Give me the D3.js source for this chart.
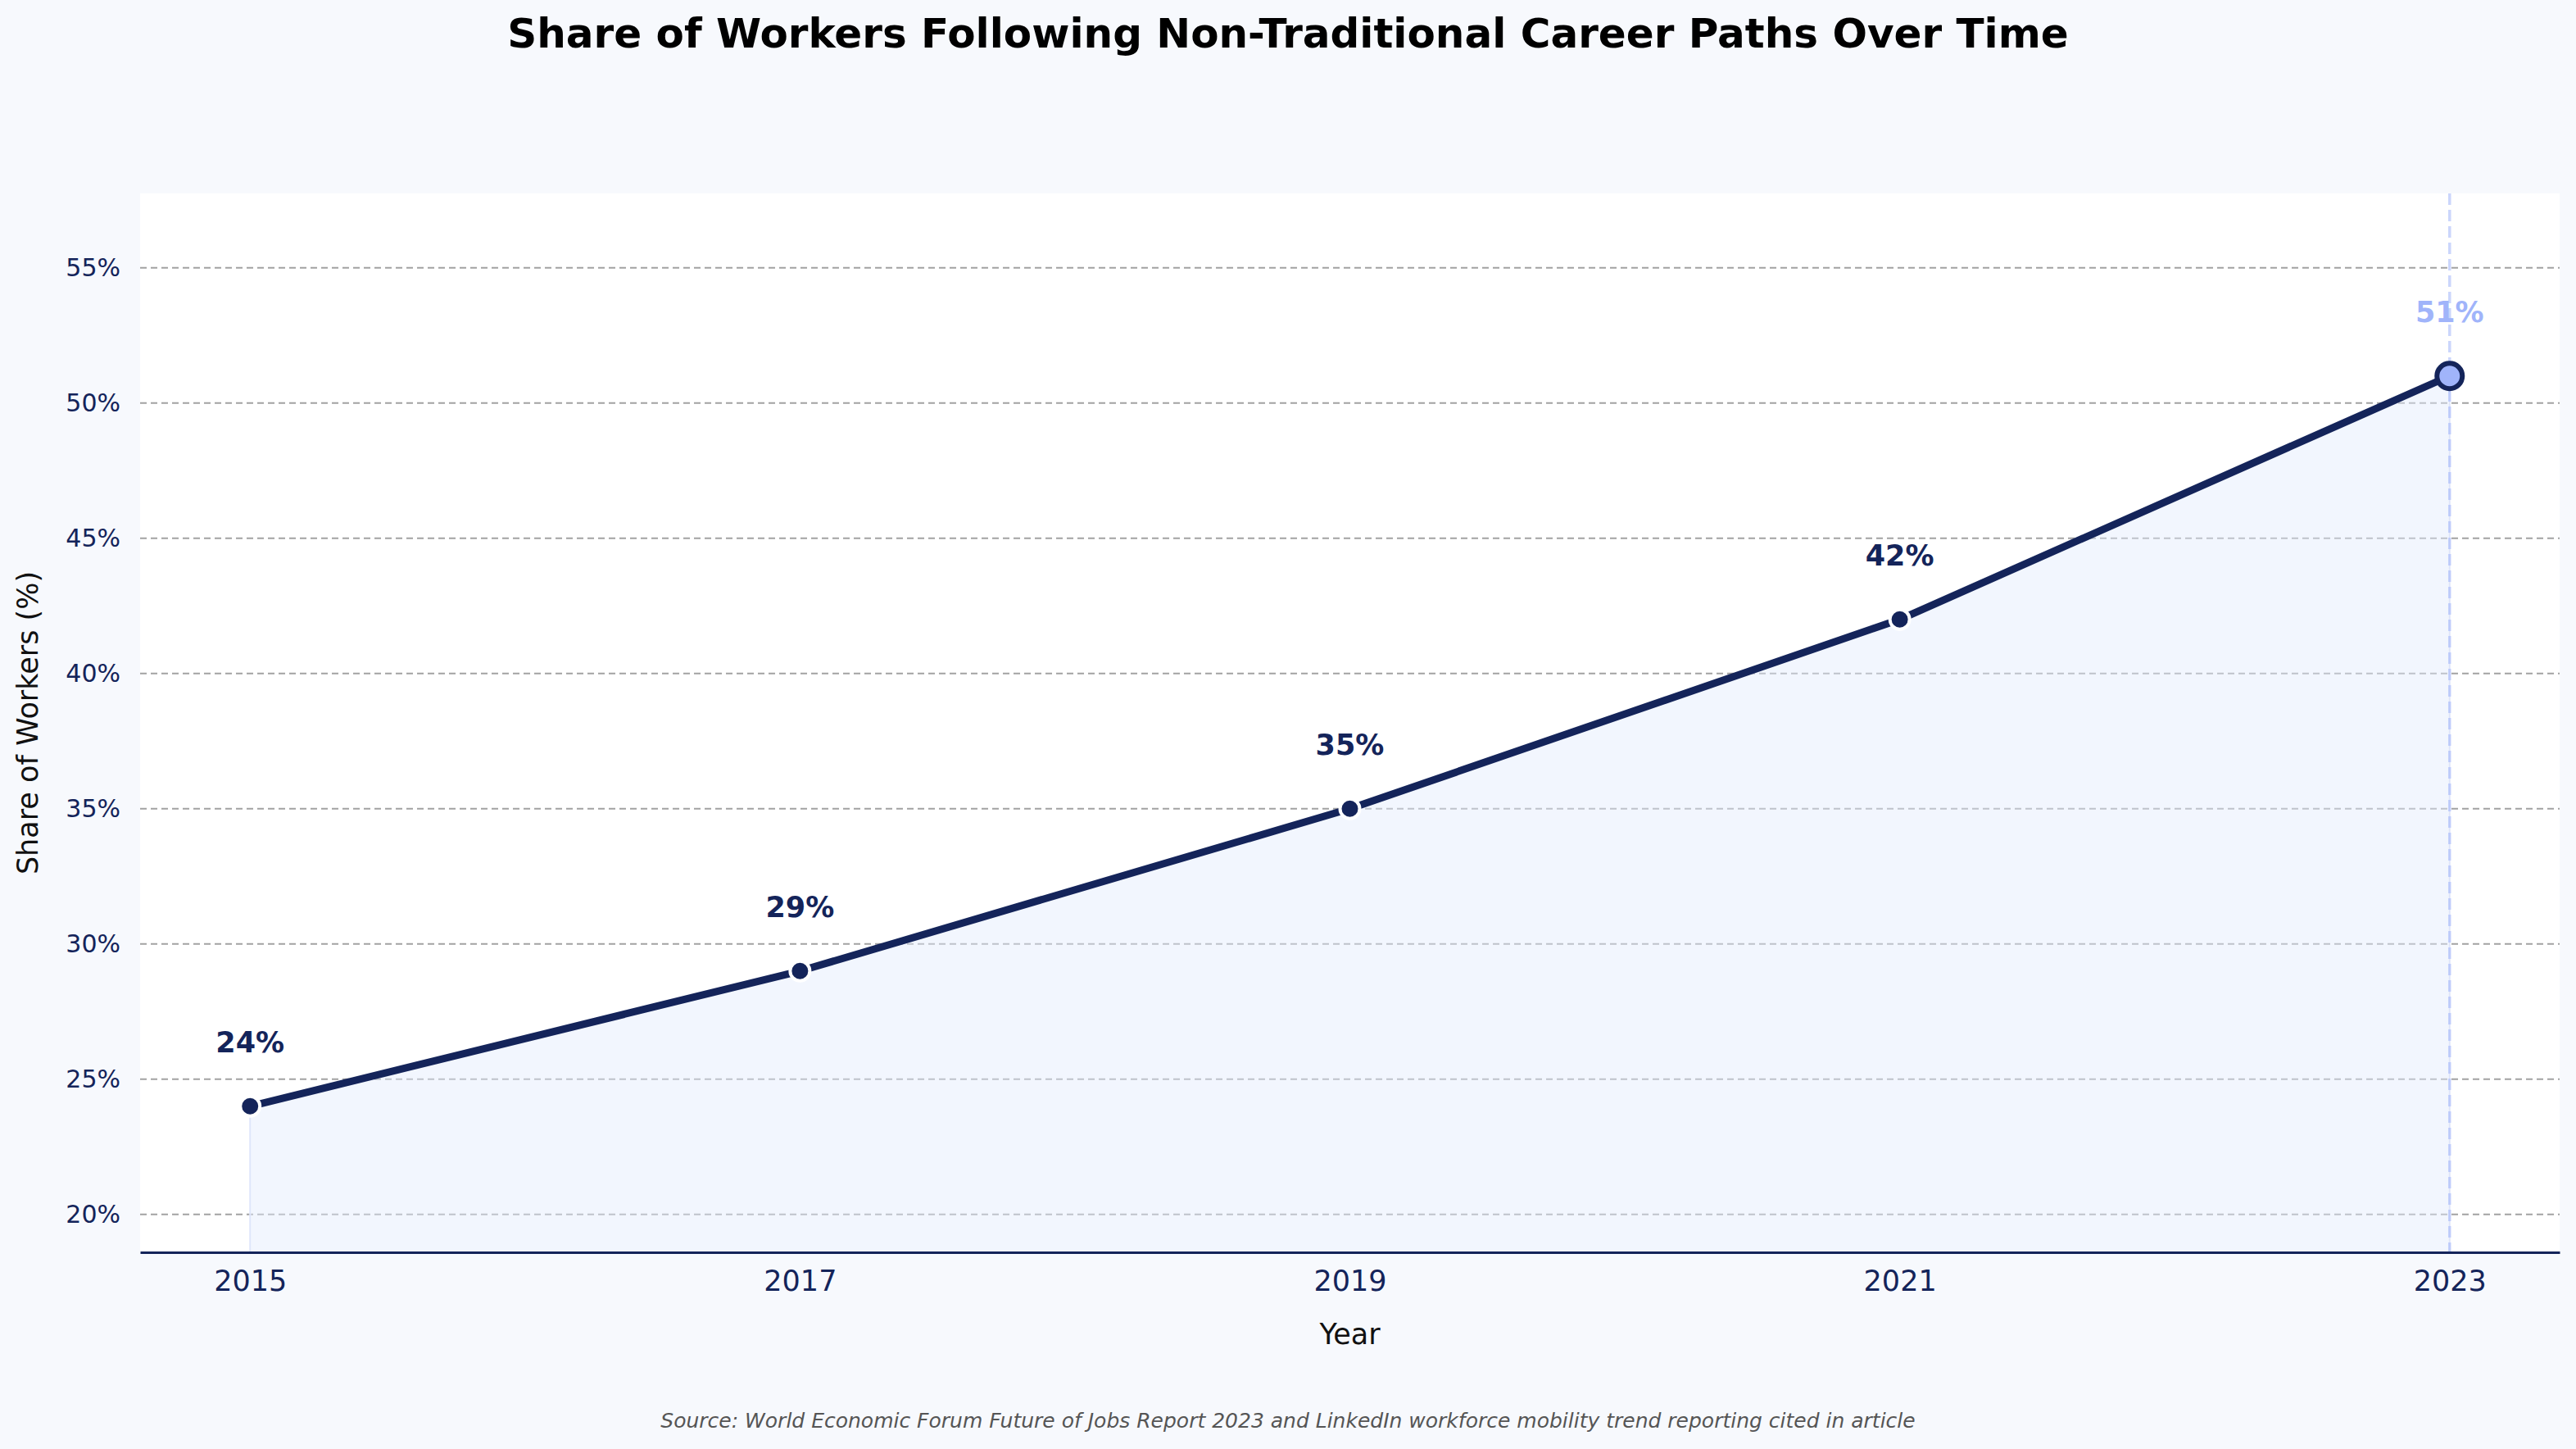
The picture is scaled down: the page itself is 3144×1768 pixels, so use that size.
<!DOCTYPE html>
<html>
<head>
<meta charset="utf-8">
<script src="https://cdn.jsdelivr.net/npm/d3@7"></script>
<style>
  body { margin: 0; background: #f7f9fd; }
  svg { display: block; font-family: "DejaVu Sans", sans-serif; }
</style>
</head>
<body>
<div id="chart"></div>
<script>
// data
var years = [2015, 2017, 2019, 2021, 2023];
var shares = [24, 29, 35, 42, 51];
var yTicks = [20, 25, 30, 35, 40, 45, 50, 55];
var title = "Share of Workers Following Non-Traditional Career Paths Over Time";
var source = "Source: World Economic Forum Future of Jobs Report 2023 and LinkedIn workforce mobility trend reporting cited in article";

var width = 3144,
    height = 1768,
    margin = {top: 236, right: 20, bottom: 240, left: 171},
    navy = "#14245a",
    accent = "#a0b4fa";

var data = years.map(function(d, i) { return {year: d, value: shares[i]}; });

var svg = d3.select("#chart").append("svg")
    .attr("width", width)
    .attr("height", height);

svg.append("rect")
    .attr("width", width)
    .attr("height", height)
    .attr("fill", "#f7f9fd");

var innerW = width - margin.left - margin.right,
    innerH = height - margin.top - margin.bottom;

var xScale = d3.scaleLinear()
    .domain([2014.6, 2023.4])
    .range([0, innerW]);

var yScale = d3.scaleLinear()
    .domain([18.6, 57.75])
    .range([innerH, 0]);

var g = svg.append("g")
    .attr("transform", "translate(" + margin.left + "," + margin.top + ")");

g.append("rect")
    .attr("width", innerW)
    .attr("height", innerH)
    .attr("fill", "#ffffff");

// grid lines
g.selectAll(".grid")
    .data(yTicks)
  .enter().append("line")
    .attr("class", "grid")
    .attr("x1", 0)
    .attr("x2", innerW)
    .attr("y1", function(d) { return yScale(d); })
    .attr("y2", function(d) { return yScale(d); })
    .attr("stroke", "#a2a2a2")
    .attr("stroke-width", 2)
    .attr("stroke-dasharray", "8,5");

// area under the line
var area = d3.area()
    .x(function(d) { return xScale(d.year); })
    .y0(innerH)
    .y1(function(d) { return yScale(d.value); });

g.append("path")
    .datum(data)
    .attr("d", area)
    .attr("fill", "#e3eafc")
    .attr("fill-opacity", 0.45)
    .attr("stroke", "#dfe6fb")
    .attr("stroke-width", 2);

// highlight line on the last year
var last = data[data.length - 1];
g.append("line")
    .attr("x1", xScale(last.year))
    .attr("x2", xScale(last.year))
    .attr("y1", 0)
    .attr("y2", innerH)
    .attr("stroke", accent)
    .attr("stroke-opacity", 0.55)
    .attr("stroke-width", 3.5)
    .attr("stroke-dasharray", "14,6");

// main line
var line = d3.line()
    .x(function(d) { return xScale(d.year); })
    .y(function(d) { return yScale(d.value); });

g.append("path")
    .datum(data)
    .attr("d", line)
    .attr("fill", "none")
    .attr("stroke", navy)
    .attr("stroke-width", 9)
    .attr("stroke-linejoin", "round");

// markers
g.selectAll(".dot")
    .data(data.slice(0, -1))
  .enter().append("circle")
    .attr("class", "dot")
    .attr("cx", function(d) { return xScale(d.year); })
    .attr("cy", function(d) { return yScale(d.value); })
    .attr("r", 12)
    .attr("fill", navy)
    .attr("stroke", "#ffffff")
    .attr("stroke-width", 4);

g.append("circle")
    .attr("cx", xScale(last.year))
    .attr("cy", yScale(last.value))
    .attr("r", 15.5)
    .attr("fill", accent)
    .attr("stroke", navy)
    .attr("stroke-width", 6);

// value labels
g.selectAll(".val")
    .data(data)
  .enter().append("text")
    .attr("class", "val")
    .attr("x", function(d) { return xScale(d.year); })
    .attr("y", function(d) { return yScale(d.value) - 66; })
    .attr("text-anchor", "middle")
    .attr("font-size", 35)
    .attr("font-weight", "bold")
    .attr("fill", function(d, i) { return i === data.length - 1 ? accent : navy; })
    .text(function(d) { return d.value + "%"; });

// axes
var xAxis = d3.axisBottom(xScale)
    .tickValues(years)
    .tickFormat(d3.format("d"))
    .tickSize(0)
    .tickPadding(22);

var xg = g.append("g")
    .attr("transform", "translate(0," + innerH + ")")
    .call(xAxis);
xg.select(".domain").attr("stroke", navy).attr("stroke-width", 3);
xg.selectAll("text")
    .attr("font-size", 35)
    .attr("font-family", "DejaVu Sans")
    .attr("fill", navy);

var yAxis = d3.axisLeft(yScale)
    .tickValues(yTicks)
    .tickFormat(function(d) { return d + "%"; })
    .tickSize(0)
    .tickPadding(24);

var yg = g.append("g").call(yAxis);
yg.select(".domain").remove();
yg.selectAll("text")
    .attr("font-size", 30)
    .attr("font-family", "DejaVu Sans")
    .attr("fill", navy);

// titles
svg.append("text")
    .attr("x", width / 2)
    .attr("y", 58)
    .attr("text-anchor", "middle")
    .attr("font-size", 50)
    .attr("font-weight", "bold")
    .attr("fill", "#000000")
    .text(title);

svg.append("text")
    .attr("x", margin.left + innerW / 2)
    .attr("y", 1640)
    .attr("text-anchor", "middle")
    .attr("font-size", 35)
    .attr("fill", "#111111")
    .text("Year");

svg.append("text")
    .attr("transform", "translate(46,882) rotate(-90)")
    .attr("text-anchor", "middle")
    .attr("font-size", 35)
    .attr("fill", "#111111")
    .text("Share of Workers (%)");

svg.append("text")
    .attr("x", 1572)
    .attr("y", 1742)
    .attr("text-anchor", "middle")
    .attr("font-size", 25)
    .attr("font-style", "italic")
    .attr("fill", "#555555")
    .text(source);
</script>
</body>
</html>
